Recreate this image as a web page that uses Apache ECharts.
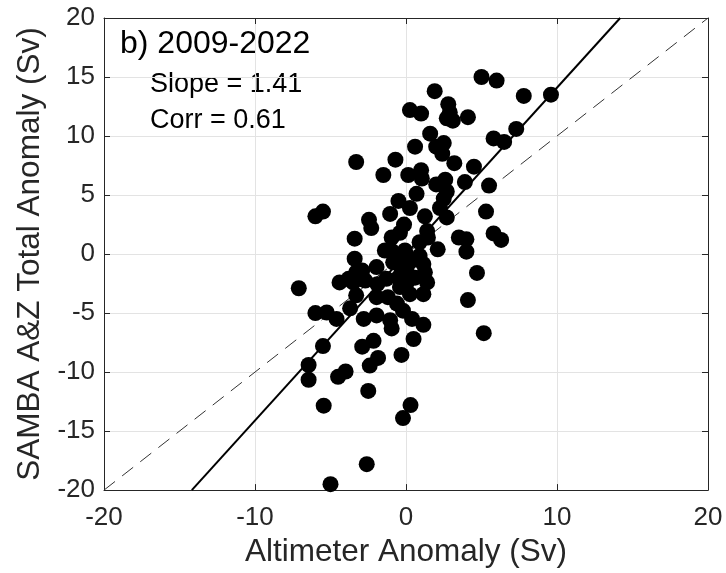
<!DOCTYPE html>
<html>
<head>
<meta charset="utf-8">
<script src="https://cdn.jsdelivr.net/npm/echarts@6/dist/echarts.min.js"></script>
<style>html,body{margin:0;padding:0;background:#fff;}#c{width:726px;height:573px;}</style>
</head>
<body>
<div id="c"></div>
<script>
// ---- data ----
var altimeterAnomaly = [
 5.0, 6.0, 1.9, 7.8, 9.6, 0.26, 1.0, 2.8, 2.9, 2.7, 3.1, 4.1, 1.6, 2.5, 2.0, 0.6,
 5.8, 6.5, 7.3, 2.4, -3.3, -0.7, 3.2, 4.5, -1.5, 0.15, 1.0, 1.05, 2.0, 2.6, 2.7, 3.9,
 5.5, 0.7, -0.5, 2.5, 2.25, 2.7, 0.26, 1.25, 5.3, -1.05, -6.0, -5.5, -2.45, -2.3, -0.13, -0.4,
 -0.95, 1.4, 1.45, 3.5, 4.0, 5.8, 6.3, -3.4, 4.0, 2.1, -3.4, 0.05, 0.9, -0.95, -0.85, -0.2,
 -1.95, 1.15, 1.25, 1.4, 4.7, -7.1, -4.4, -3.8, -3.3, -2.9, -3.5, -2.7, -1.9, -1.3, -0.5, 0.05,
 1.15, 0.26, 4.1, -3.3, -1.95, -1.2, -0.6, -0.2, 0.4, 1.15, 0.5, 5.15, -6.0, -5.25, -4.6, -3.7,
 -2.8, -1.95, -1.05, -0.95, -5.5, -2.9, -2.15, -1.85, -2.4, -0.3, -6.45, -6.45, -4.5, -4.0, -2.5, -5.45,
 0.3, -0.2, -2.6, -5.0, 0.05, -0.4, -1.4, -0.5, -0.07, 0.38, 0.9, -0.3, 0.6
];
var samabaTotalAnomaly = [
 15.0, 14.7, 13.8, 13.4, 13.5, 12.2, 11.9, 12.7, 12.0, 11.5, 11.3, 11.6, 10.2, 9.4, 9.1, 9.1,
 9.8, 9.5, 10.6, 8.5, 7.8, 8.0, 7.7, 7.4, 6.7, 6.7, 7.1, 6.4, 5.9, 6.3, 5.3, 6.1,
 5.8, 5.1, 4.5, 4.7, 3.9, 3.1, 3.9, 3.2, 3.6, 3.4, 3.2, 3.6, 2.9, 2.2, 2.5, 1.8,
 1.4, 1.95, 1.4, 1.4, 1.25, 1.75, 1.2, 1.3, 0.2, 0.4, -0.4, -0.15, -0.15, 0.27, -0.7, -0.85,
 -1.1, -0.85, -1.55, -2.4, -1.6, -2.9, -2.4, -2.1, -1.55, -1.4, -2.4, -2.25, -2.55, -2.1, -2.0, -2.4,
 -3.4, -3.4, -3.9, -3.5, -3.65, -3.65, -4.2, -4.8, -5.5, -6.0, -7.2, -6.7, -5.0, -4.95, -5.5, -4.6,
 -5.5, -5.2, -5.6, -6.3, -7.8, -7.85, -7.35, -8.8, -9.45, -8.55, -9.4, -10.65, -10.4, -9.95, -11.6, -12.85,
 -12.8, -13.9, -17.8, -19.5, -1.15, -2.8, 0.3, -0.3, 0.3, -0.55, 1.0, -1.6, -2.0
];
var fitSlope = 1.41;
var fitCorr = 0.61;
var panelTitle = 'b) 2009-2022';
var xTicks = [-20, -10, 0, 10, 20];
var yTicks = [-20, -15, -10, -5, 0, 5, 10, 15, 20];
var axisMin = -20, axisMax = 20;

// ---- build ----
var points = altimeterAnomaly.map(function (x, i) { return [x, samabaTotalAnomaly[i]]; });
var fitLine = [[axisMin / fitSlope, axisMin], [axisMax / fitSlope, axisMax]];
var oneToOne = [[axisMin, axisMin], [axisMax, axisMax]];

var FONT = '"Liberation Sans", Arial, Helvetica, sans-serif';
var AX = '#262626';

var chart = echarts.init(document.getElementById('c'), null, {renderer: 'canvas'});
var commonAxis = {
  type: 'value', min: axisMin, max: axisMax,
  axisLine: {show: true, onZero: false, lineStyle: {color: AX, width: 1}},
  axisTick: {show: true, inside: true, length: 6, lineStyle: {color: AX}},
  splitLine: {show: true, lineStyle: {color: '#e3e3e3', width: 1}}
};
chart.setOption({
  animation: false,
  backgroundColor: '#ffffff',
  grid: {left: 104, right: 18, top: 18, bottom: 79, containLabel: false},
  xAxis: [
    Object.assign({}, commonAxis, {
      interval: xTicks[1] - xTicks[0], position: 'bottom',
      axisLabel: {fontSize: 26, color: AX, fontFamily: FONT, margin: 15},
      name: 'Altimeter Anomaly (Sv)', nameLocation: 'middle', nameGap: 44,
      nameTextStyle: {fontSize: 31.5, color: AX, fontFamily: FONT}
    }),
    Object.assign({}, commonAxis, {
      interval: xTicks[1] - xTicks[0], position: 'top',
      axisLabel: {show: false}, splitLine: {show: false}
    })
  ],
  yAxis: [
    Object.assign({}, commonAxis, {
      interval: yTicks[1] - yTicks[0], position: 'left',
      axisLabel: {fontSize: 26, color: AX, fontFamily: FONT, margin: 9},
      name: 'SAMBA A&Z Total Anomaly (Sv)', nameLocation: 'middle', nameGap: 57,
      nameTextStyle: {fontSize: 31.5, color: AX, fontFamily: FONT}
    }),
    Object.assign({}, commonAxis, {
      interval: yTicks[1] - yTicks[0], position: 'right',
      axisLabel: {show: false}, splitLine: {show: false}
    })
  ],
  series: [
    {
      type: 'line', data: oneToOne, showSymbol: false, symbol: 'none',
      lineStyle: {color: '#333333', width: 1, type: [14, 9]}, z: 2, silent: true
    },
    {
      type: 'line', data: fitLine, showSymbol: false, symbol: 'none',
      lineStyle: {color: '#000000', width: 2}, z: 3, silent: true
    },
    {
      type: 'scatter', data: points, symbol: 'circle', symbolSize: 16,
      itemStyle: {color: '#000000', opacity: 1}, z: 4
    }
  ],
  graphic: [
    {type: 'text', left: 120, top: 28, style: {text: panelTitle, font: '32px ' + FONT, fill: '#000'}},
    {type: 'text', left: 150, top: 71, style: {text: 'Slope = ' + fitSlope.toFixed(2), font: '27px ' + FONT, fill: '#000'}},
    {type: 'text', left: 150, top: 107, style: {text: 'Corr = ' + fitCorr.toFixed(2), font: '27px ' + FONT, fill: '#000'}}
  ]
});
</script>
</body>
</html>
